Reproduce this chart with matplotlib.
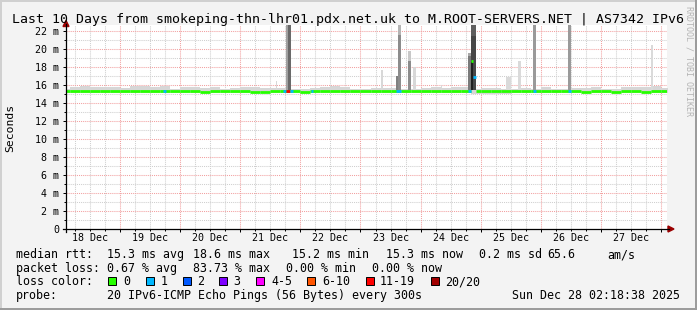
import matplotlib
matplotlib.use("Agg")
import matplotlib.pyplot as plt
from matplotlib.patches import Rectangle, Polygon
from matplotlib.lines import Line2D
import matplotlib.transforms as mtransforms

# ---------------- data ----------------
title = "Last 10 Days from smokeping-thn-lhr01.pdx.net.uk to M.ROOT-SERVERS.NET | AS7342 IPv6"
day_labels = ["18 Dec", "19 Dec", "20 Dec", "21 Dec", "22 Dec",
              "23 Dec", "24 Dec", "25 Dec", "26 Dec", "27 Dec"]
x_start, x_end = 2.4, 242.4          # hours since 18 Dec 00:00
y_max = 22.67                        # ms
y_ticks = [0, 2, 4, 6, 8, 10, 12, 14, 16, 18, 20, 22]
y_tick_labels = ["0", "2 m", "4 m", "6 m", "8 m", "10 m", "12 m", "14 m",
                 "16 m", "18 m", "20 m", "22 m"]
bin_hours = 4

# smoke envelope (4 h bins, ms)
smoke_top = [15.6, 15.8, 15.85, 15.8, 15.8, 15.8, 15.7, 15.9, 15.85, 15.8,
             15.9, 15.6, 15.8, 15.8, 15.7, 15.75, 15.6, 15.7, 15.75, 15.8,
             15.7, 15.7, 15.7, 15.6, 15.6, 15.7, 15.75, 15.85, 15.8, 15.6,
             15.6, 15.7, 15.7, 15.65, 15.6, 15.6, 15.7, 15.8, 15.7, 15.8,
             15.8, 15.6, 15.7, 15.7, 15.6, 15.6, 15.65, 15.6, 15.75, 15.6,
             15.6, 15.7, 15.7, 15.75, 15.6, 15.6, 15.8, 15.8, 15.8, 15.9, 15.7]
smoke_low = [15.15, 15.15, 15.15, 15.15, 15.15, 15.15, 15.15, 15.15, 15.15, 15.15,
             15.15, 15.15, 15.15, 15.15, 15.15, 15.15, 15.15, 15.15, 15.15, 15.15,
             15.15, 15.15, 15.15, 15.15, 15.15, 15.15, 15.15, 15.15, 15.15, 15.15,
             15.15, 15.15, 15.15, 15.15, 15.15, 15.15, 15.15, 15.15, 15.15, 15.15,
             15.15, 15.05, 15.05, 15.05, 15.05, 15.15, 15.15, 15.15, 15.15, 15.15,
             15.15, 15.15, 15.15, 15.15, 15.15, 15.15, 15.15, 15.15, 15.15, 15.15, 15.15]
median = [15.3, 15.3, 15.3, 15.3, 15.3, 15.3, 15.3, 15.3, 15.3, 15.3,
          15.3, 15.3, 15.3, 15.3, 15.25, 15.3, 15.3, 15.3, 15.3, 15.25,
          15.25, 15.3, 15.3, 15.3, 15.25, 15.3, 15.3, 15.3, 15.3, 15.3,
          15.3, 15.3, 15.3, 15.3, 15.3, 15.3, 15.3, 15.3, 15.3, 15.3,
          15.3, 15.3, 15.3, 15.3, 15.3, 15.3, 15.3, 15.3, 15.3, 15.3,
          15.3, 15.3, 15.25, 15.3, 15.3, 15.25, 15.3, 15.3, 15.25, 15.3, 15.3]
median_gap = [(164.1, 166.1)]

# ping spikes: start h, end h, low ms, high ms, shade
spike_start = [86.3, 90.26, 91.06, 128.2, 134.2, 135.0, 135.0, 139.0, 139.0, 141.0,
               152.2, 162.9, 162.9, 164.1, 164.1, 164.1, 178.1, 182.9, 188.9, 202.9, 236.0]
spike_end = [86.7, 91.06, 92.26, 129.0, 135.0, 136.2, 136.2, 140.2, 140.2, 142.2,
             152.6, 164.1, 164.1, 166.1, 166.1, 164.9, 180.1, 184.1, 190.1, 204.1, 236.8]
spike_low = [15.5, 15.4, 15.4, 15.5, 15.4, 15.4, 21.6, 15.4, 18.7, 15.5,
             15.5, 15.4, 19.2, 15.4, 21.5, 15.4, 15.5, 15.5, 15.4, 15.4, 15.5]
spike_high = [16.4, 23.0, 23.0, 17.7, 17.0, 21.6, 23.0, 18.7, 19.8, 18.0,
              16.0, 19.2, 19.6, 21.5, 23.0, 18.6, 16.9, 18.7, 23.0, 23.0, 20.4]
spike_shade = ["#d8d8d8", "#a0a0a0", "#6a6a6a", "#d8d8d8", "#808080", "#8c8c8c",
               "#b4b4b4", "#8c8c8c", "#c8c8c8", "#d8d8d8", "#d8d8d8", "#7a7a7a",
               "#a8a8a8", "#474747", "#5e5e5e", "#202020", "#dadada", "#dadada",
               "#9a9a9a", "#9a9a9a", "#dadada"]

# loss-coloured median segments: start h, end h, median ms, loss colour
loss_start = [41.1, 89.06, 90.26, 91.86, 100.2, 134.2, 162.9, 164.1, 164.9, 188.9, 202.9]
loss_end = [42.3, 90.26, 91.86, 93.06, 101.0, 136.2, 164.1, 164.9, 166.1, 190.1, 204.1]
loss_value = [15.3, 15.3, 15.3, 15.3, 15.3, 15.3, 15.3, 18.65, 16.85, 15.3, 15.3]
loss_color = ["#00b8ff", "#00b8ff", "#ff0000", "#00b8ff", "#00b8ff", "#00b8ff",
              "#00b8ff", "#26ff00", "#00b8ff", "#00b8ff", "#00b8ff"]

legend_labels = ["0", "1", "2", "3", "4-5", "6-10", "11-19", "20/20"]
legend_colors = ["#26ff00", "#00b8ff", "#0059ff", "#7e00ff", "#ff00ff",
                 "#ff5500", "#ff0000", "#a10000"]

rtt_stats = ["15.3 ms avg", "18.6 ms max", "15.2 ms min", "15.3 ms now",
             "0.2 ms sd", "65.6", "am/s"]
loss_stats = ["0.67 % avg", "83.73 % max", "0.00 % min", "0.00 % now"]
probe_text = "20 IPv6-ICMP Echo Pings (56 Bytes) every 300s"
stamp_text = "Sun Dec 28 02:18:38 2025"

# ---------------- layout ----------------
W, H = 697, 310
MONO = "DejaVu Sans Mono"
fig = plt.figure(figsize=(W / 100, H / 100), dpi=100, facecolor="#f3f3f3")


def fx(px):
    return px / W


def fy(py):
    return 1 - py / H


ax = fig.add_axes([fx(66), fy(229), 601 / W, 204 / H])
ax.set_facecolor("white")
ax.set_xlim(x_start, x_end)
ax.set_ylim(0, y_max)
for s in ax.spines.values():
    s.set_visible(False)

# grid
for h in range(0, 245, 6):
    if h % 24 == 0:
        ax.axvline(h, color="#f2a0a0", lw=0.75, ls=(0, (1, 1)), zorder=1)
    else:
        ax.axvline(h, color="#cfcfcf", lw=0.75, ls=(0, (1, 1)), zorder=0.9)
for v in range(1, 23):
    if v % 2 == 0:
        ax.axhline(v, color="#f2a0a0", lw=0.75, ls=(0, (1, 1)), zorder=1)
    else:
        ax.axhline(v, color="#cfcfcf", lw=0.75, ls=(0, (1, 1)), zorder=0.9)

# smoke
t_edges = [i * bin_hours for i in range(len(smoke_top))] + [len(smoke_top) * bin_hours]
ax.fill_between(t_edges, smoke_low + [smoke_low[-1]], smoke_top + [smoke_top[-1]],
                step="post", color="#d6d6d6", lw=0, zorder=2)
for s0, s1, lo, hi, c in zip(spike_start, spike_end, spike_low, spike_high, spike_shade):
    ax.bar(s0, hi - lo, width=s1 - s0, bottom=lo, align="edge", color=c, lw=0, zorder=3)

# median (green) with gaps
for i, m in enumerate(median):
    a, b = i * bin_hours, (i + 1) * bin_hours
    pieces = [(a, b)]
    for g0, g1 in median_gap:
        new = []
        for p0, p1 in pieces:
            if g1 <= p0 or g0 >= p1:
                new.append((p0, p1))
            else:
                if p0 < g0:
                    new.append((p0, g0))
                if g1 < p1:
                    new.append((g1, p1))
        pieces = new
    for p0, p1 in pieces:
        ax.hlines(m, p0, p1, colors="#26ff00", lw=2.0, zorder=4, capstyle="butt")
for s0, s1, v, c in zip(loss_start, loss_end, loss_value, loss_color):
    ax.hlines(v, s0, s1, colors=c, lw=2.0, zorder=5, capstyle="butt")

# ticks
ax.set_xticks(list(range(24, 241, 24)))
ax.set_xticklabels([])
ax.set_xticks([h for h in range(6, 243, 6) if h % 24], minor=True)
ax.tick_params(axis="x", which="major", length=2.2, width=0.72, direction="out", color="black")
ax.tick_params(axis="x", which="minor", length=1.5, width=0.72, direction="out", color="black")
ax.set_yticks(y_ticks)
ax.set_yticklabels(y_tick_labels, fontfamily=MONO, fontsize=7.2)
ax.set_yticks(list(range(1, 23, 2)), minor=True)
ax.tick_params(axis="y", which="major", length=2.2, width=0.72, direction="out", pad=2.9)
ax.tick_params(axis="y", which="minor", length=1.5, width=0.72, direction="out")

trans = mtransforms.blended_transform_factory(ax.transData, fig.transFigure)
for k, lab in enumerate(day_labels):
    ax.text(24 * k + 12, fy(240.7), lab, transform=trans, ha="center", va="baseline",
            fontfamily=MONO, fontsize=7.2, color="black")

# axis lines + arrows
fig.add_artist(Line2D([fx(63), fx(669)], [fy(229), fy(229)], color="black", lw=0.9,
                      transform=fig.transFigure))
fig.add_artist(Line2D([fx(66), fx(66)], [fy(232), fy(24)], color="black", lw=0.9,
                      transform=fig.transFigure))
fig.add_artist(Polygon([(fx(668), fy(226)), (fx(674), fy(229)), (fx(668), fy(232))],
                       closed=True, color="#9b0000", transform=fig.transFigure))
fig.add_artist(Polygon([(fx(63), fy(26.5)), (fx(66), fy(20.5)), (fx(69), fy(26.5))],
                       closed=True, color="#9b0000", transform=fig.transFigure))

# texts
fig.text(fx(348), fy(23.5), title, ha="center", va="baseline", fontfamily=MONO,
         fontsize=9.55, color="black")
fig.text(fx(10), fy(127.5), "Seconds", ha="center", va="center", rotation=90,
         fontfamily=MONO, fontsize=8.2, color="black")
fig.text(fx(688.5), fy(6), "RRDTOOL / TOBI OETIKER", ha="center", va="top", rotation=270,
         fontfamily=MONO, fontsize=6, color="#b4b4b4")

LF = 8.4
rows = [258, 271.7, 285.3, 299]
fig.text(fx(16), fy(rows[0]), "median rtt:", fontfamily=MONO, fontsize=LF, va="baseline")
for xp, s in zip([107, 193, 292, 386, 479, 547, 607], rtt_stats):
    fig.text(fx(xp), fy(rows[0]), s, fontfamily=MONO, fontsize=LF, va="baseline")
fig.text(fx(16), fy(rows[1]), "packet loss:", fontfamily=MONO, fontsize=LF, va="baseline")
for xp, s in zip([107, 193, 286, 372.5], loss_stats):
    fig.text(fx(xp), fy(rows[1]), s, fontfamily=MONO, fontsize=LF, va="baseline")
fig.text(fx(16), fy(rows[2]), "loss color:", fontfamily=MONO, fontsize=LF, va="baseline")
box_x = [108, 146, 183, 219, 256, 307, 366, 431]
lab_x = [123, 161, 197, 233, 271, 322, 380, 445]
for bx, lx, lab, c in zip(box_x, lab_x, legend_labels, legend_colors):
    fig.add_artist(Rectangle((fx(bx), fy(285)), 8 / W, 8 / H, facecolor=c,
                             edgecolor="black", lw=0.7, transform=fig.transFigure))
    fig.text(fx(lx), fy(rows[2]), lab, fontfamily=MONO, fontsize=LF, va="baseline")
fig.text(fx(16), fy(rows[3]), "probe:", fontfamily=MONO, fontsize=LF, va="baseline")
fig.text(fx(107), fy(rows[3]), probe_text, fontfamily=MONO, fontsize=LF, va="baseline")
fig.text(fx(680.5), fy(rows[3]), stamp_text, fontfamily=MONO, fontsize=LF, va="baseline",
         ha="right")

# frame shading
fig.add_artist(Rectangle((0, fy(2)), 1, 2 / H, facecolor="#d0d0d0", lw=0, transform=fig.transFigure))
fig.add_artist(Rectangle((0, 0), 2 / W, 1, facecolor="#d0d0d0", lw=0, transform=fig.transFigure))
fig.add_artist(Rectangle((0, 0), 1, 2 / H, facecolor="#9c9c9c", lw=0, transform=fig.transFigure))
fig.add_artist(Rectangle((fx(695), 0), 2 / W, 1, facecolor="#9c9c9c", lw=0, transform=fig.transFigure))

fig.savefig("out.png", dpi=100, facecolor=fig.get_facecolor())
